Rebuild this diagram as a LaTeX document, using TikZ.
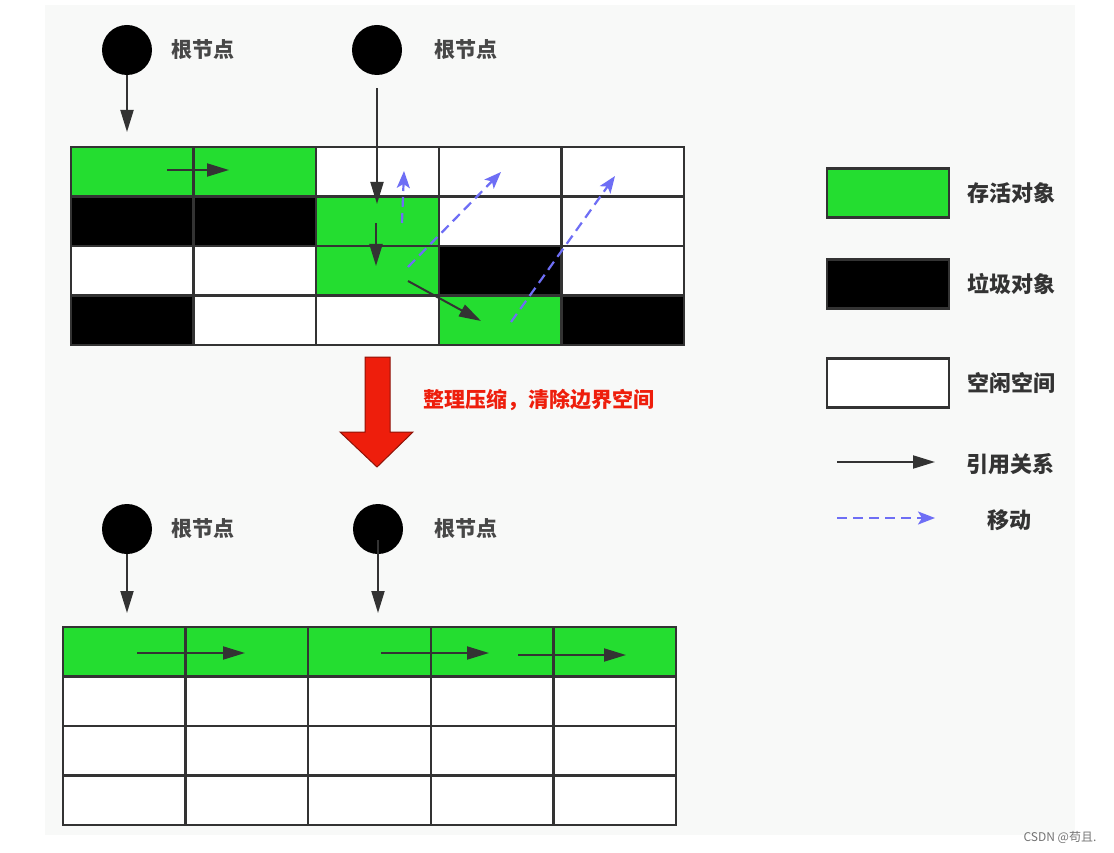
\documentclass[tikz,border=0pt]{standalone}
\usepackage{fontspec}
\newfontfamily\cjk{Noto Sans CJK SC}
\usetikzlibrary{arrows.meta, positioning}
\definecolor{alivegreen}{RGB}{36,221,48}
\definecolor{ink}{RGB}{51,51,51}
\definecolor{movblue}{RGB}{110,110,245}
\definecolor{alarm}{RGB}{238,30,12}
\definecolor{paper}{RGB}{248,249,248}
\tikzset{
    alive/.style={fill=alivegreen},
    garbage/.style={fill=black},
    cellline/.style={draw=ink, line width=2.4pt},
    refarrow/.style={draw=ink, line width=2pt, -{Triangle[length=22pt, width=13pt]}},
    movearrow/.style={draw=movblue, line width=2.2pt, dash pattern=on 10pt off 6pt,
        -{Stealth[length=17pt, width=13pt, inset=4pt]}},
    rootnode/.style={circle, fill=black, minimum size=50pt, inner sep=0pt},
    rootlabel/.style={inner sep=0pt, text=ink!90, font=\cjk\bfseries\fontsize{21}{21}\selectfont},
    legbox/.style={draw=ink, line width=2.4pt, minimum width=122pt, minimum height=49pt, inner sep=0pt},
    legtext/.style={inner sep=0pt, text=ink, font=\cjk\bfseries\fontsize{22}{22}\selectfont},
}

\begin{document}
\begin{tikzpicture}[x=1pt, y=-1pt]
\useasboundingbox (0,0) rectangle (1114,853);
\fill[white] (0,0) rectangle (1114,853);
\fill[paper] (45,5) rectangle (1075,835);
% heap before compaction
\begin{scope}[shift={(71,147)}, x=122.6pt, y=-49.5pt]
\fill[white] (0,0) rectangle (5,4);
\foreach \c/\r in {0/0, 1/0, 2/1, 2/2, 3/3}
    \fill[alive] (\c,\r) rectangle ++(1,1);
\foreach \c/\r in {0/1, 1/1, 3/2, 0/3, 4/3}
    \fill[garbage] (\c,\r) rectangle ++(1,1);
\foreach \i in {1,...,4} \draw[cellline] (\i,0) -- (\i,4);
\foreach \j in {1,2,3} \draw[cellline] (0,\j) -- (5,\j);
\draw[cellline] (0,0) rectangle (5,4);
\end{scope}
% heap after compaction
\begin{scope}[shift={(63,627)}, x=122.6pt, y=-49.5pt]
\fill[white] (0,0) rectangle (5,4);
\fill[alive] (0,0) rectangle (5,1);
\foreach \i in {1,...,4} \draw[cellline] (\i,0) -- (\i,4);
\foreach \j in {1,2,3} \draw[cellline] (0,\j) -- (5,\j);
\draw[cellline] (0,0) rectangle (5,4);
\end{scope}

% roots
\node[rootnode] (rootA) at (127,50) {};
\node[rootnode] (rootB) at (377,50) {};
\node[rootnode] (rootC) at (127,529) {};
\node[rootnode] (rootD) at (378,529) {};
\foreach \r/\gap in {rootA/19, rootB/32, rootC/19, rootD/31}
    \node[rootlabel, right=\gap pt of \r] (\r-lbl) {根节点};

% references before
\coordinate (topA) at (127,132);
\coordinate (topB) at (377,204);
\coordinate (p1) at (167,170);
\coordinate (p2) at (229,170);
\coordinate (q1) at (376,223);
\coordinate (q2) at (376,266);
\coordinate (s1) at (408,281);
\coordinate (s2) at (481,321);
\draw[refarrow] (rootA.south) -- (topA);
\draw[refarrow, shorten <=13pt] (rootB.south) -- (topB);
\draw[refarrow] (p1) -- (p2);
\draw[refarrow] (q1) -- (q2);
\draw[refarrow] (s1) -- (s2);
% moves
\coordinate (m1a) at (402,223);
\coordinate (m1b) at (404,171);
\coordinate (m2a) at (408,267);
\coordinate (m2b) at (501,172);
\coordinate (m3a) at (511,322);
\coordinate (m3b) at (615,176);
\draw[movearrow] (m1a) -- (m1b);
\draw[movearrow] (m2a) -- (m2b);
\draw[movearrow] (m3a) -- (m3b);

% references after
\coordinate (botC) at (127,613);
\coordinate (botD) at (378,613);
\draw[refarrow] (rootC.south) -- (botC);
\draw[refarrow, shorten <=11pt] (rootD.center) -- (botD);
\foreach \a/\b/\y [count=\k] in {137/245/653, 381/489/653, 518/626/655} {
    \coordinate (n\k a) at (\a,\y);
    \coordinate (n\k b) at (\b,\y);
    \draw[refarrow] (n\k a) -- (n\k b);
}

% big arrow
\draw[fill=alarm, draw=alarm!60!black, line width=1pt]
    (365,357) -- (390,357) -- (390,432) -- (413,432) -- (377,467)
    -- (340,432) -- (365,432) -- cycle;
\node[inner sep=0pt, text=alarm, font=\cjk\bfseries\fontsize{21}{21}\selectfont] (step) at (539,400) {整理压缩，清除边界空间};

% legend
\node[legbox, fill=alivegreen] (kAlive) at (888,193) {};
\node[legbox, fill=black] (kGarbage) at (888,284) {};
\node[legbox, fill=white] (kFree) at (888,383) {};
\node[legtext, right=17pt of kAlive] {存活对象};
\node[legtext, right=17pt of kGarbage] {垃圾对象};
\node[legtext, right=17pt of kFree] {空闲空间};
\coordinate (kRefA) at (837,462);
\coordinate (kRefB) at (935,462);
\coordinate (kMovA) at (837,518);
\coordinate (kMovB) at (935,518);
\draw[refarrow] (kRefA) -- (kRefB);
\draw[movearrow] (kMovA) -- (kMovB);
\node[legtext] (kRefT) at (1010,464) {引用关系};
\node[legtext] (kMovT) at (1009,520) {移动};

\node[inner sep=0pt, text=black!55, font=\cjk\fontsize{12}{12}\selectfont] (mark) at (1060,837) {CSDN @苟且.};
\end{tikzpicture}
\end{document}
